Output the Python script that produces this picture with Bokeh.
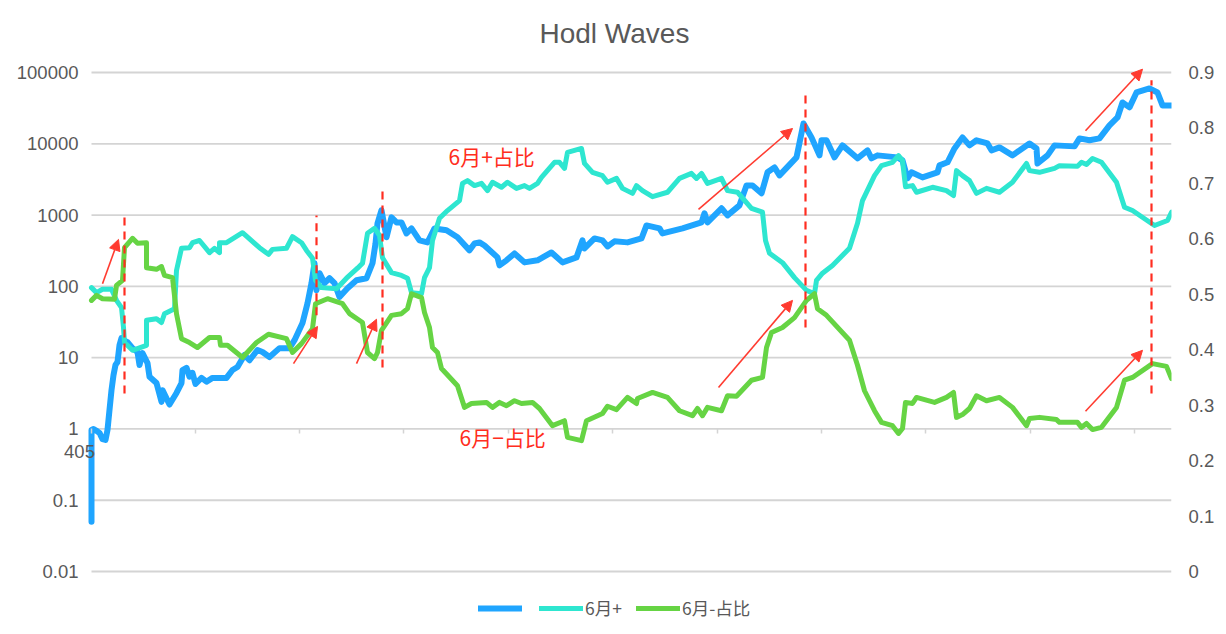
"""
Hodl Waves - precio (log) y participacion 6月+ / 6月-占比
"""

from bokeh.embed import file_html
from bokeh.models import Arrow, FixedTicker, Label, Legend, LegendItem, LinearAxis, LinearScale, NormalHead, Range1d
from bokeh.plotting import figure
from bokeh.resources import INLINE

# --------------------------------------------------------------
# DATOS
# --------------------------------------------------------------

precio_x = [0, 0, 2, 5, 8, 11, 14, 16, 18, 20, 22, 24, 26, 28, 30, 32, 36, 41, 46, 48, 51, 56, 58, 65, 70, 71, 78,
            85, 90, 91, 95, 98, 101, 104, 110, 115, 121, 135, 141, 146, 153, 158, 166, 171, 178, 188, 198, 203,
            211, 216, 220, 223, 225, 228, 233, 238, 243, 248, 256, 265, 275, 281, 284, 286, 290, 295, 300, 305,
            310, 315, 320, 328, 336, 343, 355, 366, 378, 383, 388, 393, 406, 408, 415, 423, 433, 446, 460, 471,
            485, 491, 493, 503, 511, 516, 523, 536, 550, 555, 568, 571, 591, 610, 613, 616, 630, 636, 648, 655,
            661, 670, 676, 683, 688, 705, 712, 720, 728, 730, 735, 743, 751, 766, 776, 780, 786, 806, 811, 816,
            820, 831, 846, 848, 856, 863, 871, 878, 885, 896, 900, 908, 921, 938, 945, 946, 956, 963, 983, 988,
            998, 1008, 1018, 1026, 1031, 1038, 1045, 1058, 1066, 1071, 1080]
precio = [0.05, 0.97, 1.0, 0.94, 0.88, 0.72, 0.70, 0.97, 1.85, 3.5, 5.7, 7.9, 8.7, 15, 18.8, 17.6, 16.5, 13.6, 12,
          7.9, 11.6, 8.4, 5.4, 4.4, 2.4, 3.5, 2.2, 3.2, 4.4, 6.7, 7.2, 5.4, 6.1, 4.27, 5.2, 4.6, 5.2, 5.2, 6.7,
          7.4, 10.9, 9.2, 12.8, 12, 10.2, 13.6, 13.6, 17.6, 30.6, 58, 111, 211, 88, 153, 111, 130, 111, 71, 94,
          122, 130, 211, 400, 765, 1170, 488, 930, 790, 790, 553, 650, 442, 414, 650, 611, 488, 320, 400, 414,
          375, 255, 197, 232, 290, 217, 232, 299, 217, 255, 442, 340, 470, 442, 363, 428, 414, 470, 716, 650,
          553, 650, 790, 1060, 790, 1245, 990, 1370, 2610, 2610, 2020, 3980, 4670, 3600, 6450, 19300, 12300,
          6880, 11200, 11200, 6450, 9500, 6250, 8100, 6250, 6880, 6450, 5860, 3280, 3980, 3380, 3980, 4980,
          5500, 8600, 12300, 9500, 11200, 10100, 8100, 8900, 6880, 10100, 8600, 5300, 6880, 9500, 9200, 11900,
          11200, 11900, 18100, 23400, 38000, 32400, 52500, 59700, 52500, 34500, 34500]

mas_x = [0, 5, 11, 20, 25, 30, 32, 33, 41, 55, 55, 65, 70, 73, 83, 85, 90, 98, 101, 108, 118, 123, 128, 128, 135,
         151, 168, 177, 181, 195, 201, 210, 215, 221, 224, 230, 245, 255, 266, 271, 276, 283, 288, 291, 300, 310,
         316, 320, 330, 333, 338, 341, 348, 356, 368, 371, 376, 383, 390, 396, 401, 410, 416, 425, 433, 438, 446,
         450, 463, 468, 473, 476, 490, 493, 501, 511, 516, 525, 531, 541, 545, 551, 561, 576, 588, 600, 605, 610,
         616, 630, 636, 646, 660, 671, 674, 678, 691, 703, 715, 723, 725, 731, 741, 758, 766, 771, 783, 790, 801,
         807, 811, 814, 821, 825, 841, 855, 862, 865, 871, 878, 885, 895, 908, 921, 935, 938, 948, 963, 968, 986,
         990, 995, 1001, 1010, 1025, 1033, 1041, 1063, 1076, 1080]
mas = [.512, .503, .509, .509, .489, .476, .440, .413, .399, .408, .453, .456, .449, .465, .474, .543, .583, .584,
       .593, .597, .575, .583, .575, .593, .593, .611, .584, .572, .581, .583, .604, .593, .579, .565, .525, .512,
       .510, .529, .547, .556, .610, .619, .606, .566, .539, .534, .529, .503, .501, .530, .548, .597, .637, .651,
       .669, .700, .705, .696, .700, .687, .702, .693, .702, .691, .696, .691, .700, .711, .738, .738, .727, .756,
       .763, .736, .720, .714, .702, .709, .691, .682, .696, .687, .676, .684, .709, .718, .709, .718, .700, .709,
       .687, .684, .655, .648, .597, .574, .557, .530, .507, .501, .525, .538, .552, .583, .628, .669, .714, .732,
       .738, .750, .741, .694, .696, .684, .693, .687, .678, .723, .714, .705, .682, .691, .684, .702, .736, .723,
       .720, .727, .732, .731, .738, .734, .745, .738, .702, .657, .651, .624, .633, .648]

menos_x = [0, 5, 11, 23, 25, 31, 33, 41, 46, 55, 55, 65, 70, 73, 81, 85, 90, 98, 106, 118, 128, 129, 136, 151, 165,
           177, 195, 201, 210, 221, 224, 236, 251, 258, 271, 276, 283, 286, 290, 300, 310, 316, 320, 330, 333, 338,
           341, 346, 350, 366, 373, 380, 395, 401, 408, 415, 423, 430, 441, 448, 461, 473, 476, 490, 495, 511, 516,
           525, 536, 545, 546, 561, 576, 588, 601, 606, 611, 616, 630, 636, 645, 660, 671, 675, 680, 691, 703, 715,
           723, 726, 735, 758, 766, 773, 783, 790, 801, 807, 811, 814, 821, 825, 843, 855, 862, 865, 871, 878, 885,
           895, 908, 921, 935, 938, 948, 965, 968, 986, 990, 995, 1001, 1010, 1025, 1033, 1041, 1061, 1075, 1080]
menos = [.489, .498, .492, .491, .516, .525, .584, .601, .592, .593, .548, .545, .550, .534, .530, .465, .420, .413,
         .404, .422, .422, .408, .408, .386, .413, .428, .420, .395, .411, .438, .483, .492, .483, .465, .449, .395,
         .384, .395, .435, .462, .465, .474, .501, .494, .467, .440, .404, .395, .366, .335, .296, .303, .305, .296,
         .305, .299, .308, .303, .305, .294, .263, .272, .242, .236, .272, .285, .298, .292, .314, .303, .312, .323,
         .314, .290, .281, .294, .281, .296, .290, .317, .316, .345, .350, .404, .431, .440, .458, .489, .501, .474,
         .462, .417, .372, .326, .290, .269, .263, .249, .258, .305, .303, .314, .305, .314, .323, .278, .283, .294,
         .317, .308, .314, .296, .263, .276, .278, .274, .269, .269, .260, .267, .256, .260, .296, .345, .350, .375,
         .370, .348]

ticks_izq = [0.01, 0.1, 1, 10, 100, 1000, 10000, 100000]
etiquetas_izq = ["0.01", "0.1", "1", "10", "100", "1000", "10000", "100000"]
ticks_der = [0, 0.1, 0.2, 0.3, 0.4, 0.5, 0.6, 0.7, 0.8, 0.9]
ticks_x = [0, 104, 208, 312, 417, 521, 626, 730, 834, 939, 1043]

# lineas rojas punteadas
corte_x = [33, 225, 291, 714, 1060]
corte_arriba = [.642, .642, .696, .868, .886]
corte_abajo = [.321, .462, .368, .440, .321]

# flechas rojas (x0, y0, x1, y1)
flechas = [
    (11, .519, 27, .599),
    (202, .375, 226, .442),
    (265, .375, 285, .455),
    (607, .653, 701, .799),
    (627, .332, 701, .489),
    (994, .795, 1051, .906),
    (994, .289, 1051, .399),
]

GRIS = "#595959"
ROJO = "#ff2d20"
CJK = "Noto Sans CJK SC"

# --------------------------------------------------------------
# GRAFICA
# --------------------------------------------------------------

# el marco se alarga por arriba, abajo e izquierda: fuera de el los textos y flechas se recortan
p = figure(
    title="Hodl Waves",
    width=1218,
    height=626,
    y_axis_type="log",
    x_range=Range1d(-32, 1080),
    y_range=Range1d(0.001693, 129500),
    min_border_left=59,
    min_border_right=47,
    min_border_top=64,
    min_border_bottom=0,
    toolbar_location=None,
    output_backend="svg",)
p.outline_line_color = None

p.title.align = "left"
p.title.offset = 480
p.title.standoff = 31
p.title.text_color = GRIS
p.title.text_font = "Liberation Sans"
p.title.text_font_size = "28px"
p.title.text_font_style = "normal"

p.extra_y_ranges = {"ratio": Range1d(start=-0.0992, end=0.91443)}
p.extra_y_scales = {"ratio": LinearScale()}
eje_der = LinearAxis(y_range_name="ratio", ticker=FixedTicker(ticks=ticks_der))
p.add_layout(eje_der, "right")

eje_izq = p.yaxis[0]
eje_izq.ticker = FixedTicker(ticks=ticks_izq)
eje_izq.major_label_overrides = dict(zip(ticks_izq, etiquetas_izq))

for eje, separacion in ((eje_izq, -19), (eje_der, 17)):
    eje.axis_line_color = None
    eje.major_tick_line_color = None
    eje.minor_tick_line_color = None
    eje.major_tick_in = 0
    eje.major_tick_out = 0
    eje.major_label_standoff = separacion
    eje.major_label_text_color = GRIS
    eje.major_label_text_font = "Liberation Sans"
    eje.major_label_text_font_size = "18.5px"

p.xaxis.ticker = FixedTicker(ticks=ticks_x)
p.xaxis.fixed_location = 1
p.xaxis.axis_line_color = None
p.xaxis.major_tick_line_color = "#d4d4d4"
p.xaxis.major_tick_line_width = 1.5
p.xaxis.major_tick_in = 0
p.xaxis.major_tick_out = 5
p.xaxis.minor_tick_line_color = None
p.xaxis.major_label_overrides = {t: "" for t in ticks_x}

# rejilla a mano: el marco es mas ancho que la zona de datos
p.xgrid.grid_line_color = None
p.ygrid.grid_line_color = None
p.segment([0] * len(ticks_izq), ticks_izq, [1080] * len(ticks_izq), ticks_izq, line_color="#d4d4d4", line_width=1.8)

linea_precio = p.line(precio_x, precio, line_width=6, color="#1fa5ff", line_join="round", line_cap="round")
linea_mas = p.line(mas_x, mas, line_width=5, color="#2ee6d0", line_join="round", line_cap="round",
                   y_range_name="ratio")
linea_menos = p.line(menos_x, menos, line_width=5, color="#66d444", line_join="round", line_cap="round",
                     y_range_name="ratio")

cortes = p.segment(corte_x, corte_abajo, corte_x, corte_arriba, line_color=ROJO, line_width=2.2,
                   y_range_name="ratio")
cortes.glyph.line_dash = [8, 6]

for x0, y0, x1, y1 in flechas:
    p.add_layout(Arrow(
        end=NormalHead(size=11, fill_color="#ff3b30", line_color="#ff3b30"),
        x_start=x0, y_start=y0, x_end=x1, y_end=y1,
        line_color="#ff3b30", line_width=1.6,
        y_range_name="ratio",))

p.add_layout(Label(x=357, y=.750, text="6月+占比", y_range_name="ratio", text_baseline="middle",
                   text_color=ROJO, text_font=CJK, text_font_size="21px"))
p.add_layout(Label(x=368, y=.242, text="6月−占比", y_range_name="ratio", text_baseline="middle",
                   text_color=ROJO, text_font=CJK, text_font_size="21px"))
p.add_layout(Label(x=-12, y=0.476, text="405", text_align="center", text_baseline="middle",
                   text_color=GRIS, text_font="Liberation Sans", text_font_size="18.5px"))

leyenda = Legend(
    items=[
        LegendItem(label=" ", renderers=[linea_precio]),
        LegendItem(label="6月+", renderers=[linea_mas]),
        LegendItem(label="6月-占比", renderers=[linea_menos]),
    ],
    orientation="horizontal",
    location=(419, 6),
    glyph_width=44,
    glyph_height=20,
    label_standoff=2,
    label_width=1,
    spacing=14,
    padding=0,
    margin=0,
    border_line_color=None,
    background_fill_color=None,
    label_text_color=GRIS,
    label_text_font=CJK,
    label_text_font_size="17.5px",)
p.add_layout(leyenda, "center")

open("out.html", "w").write(file_html(p, INLINE))
